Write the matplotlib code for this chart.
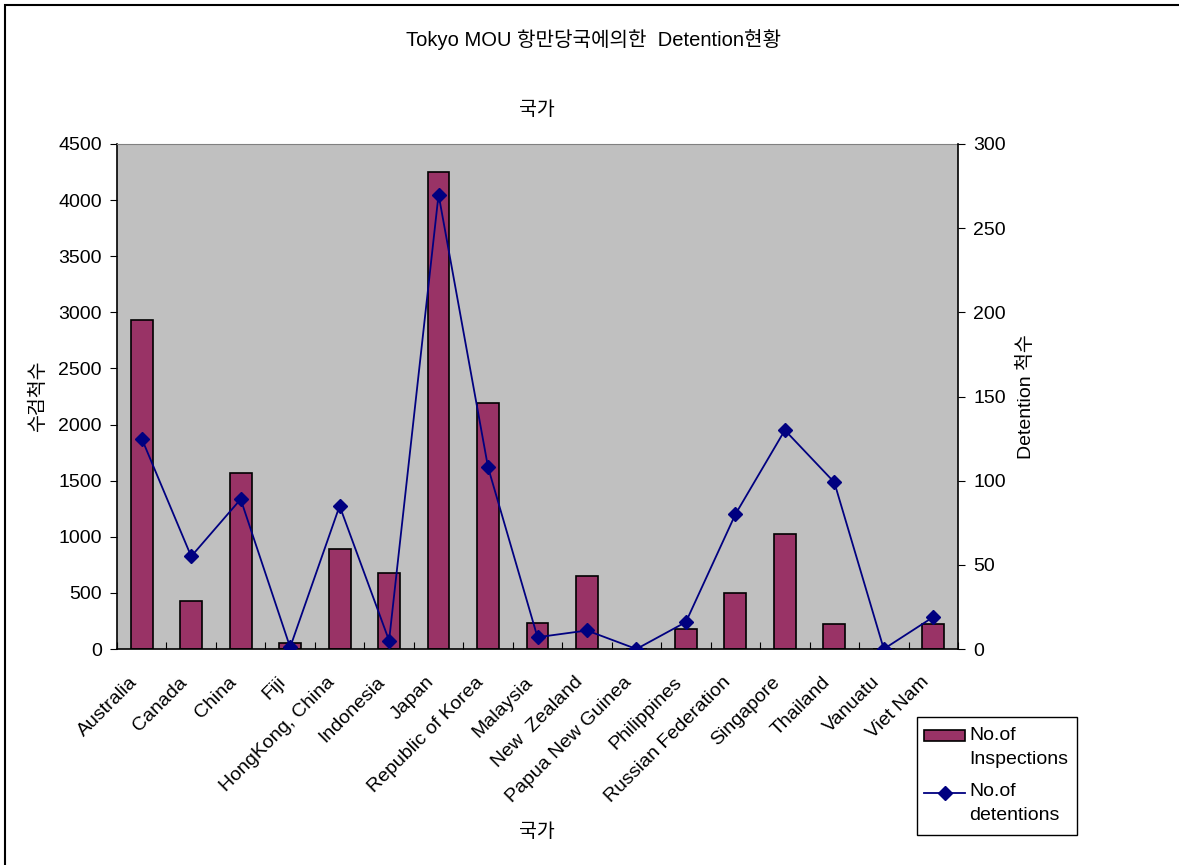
import matplotlib
matplotlib.use("Agg")
import matplotlib.pyplot as plt
import matplotlib.transforms as mtransforms
from matplotlib.patches import Rectangle
from matplotlib.lines import Line2D
import numpy as np

plt.rcParams['font.family'] = ['Liberation Sans', 'Noto Sans CJK KR', 'DejaVu Sans']

countries = ["Australia", "Canada", "China", "Fiji", "HongKong, China", "Indonesia",
             "Japan", "Republic of Korea", "Malaysia", "New  Zealand", "Papua New Guinea",
             "Philippines", "Russian Federation", "Singapore", "Thailand", "Vanuatu", "Viet Nam"]
inspections = [2930, 430, 1570, 52, 889, 681, 4252, 2192, 233, 650, 0,
               178, 500, 1027, 221, 0, 221]
detentions = [125, 55, 89, 1, 85, 5, 270, 108, 7, 11, 0,
              16, 80, 130, 99, 0, 19]

bar_color = "#993366"
line_color = "#000080"
FS = 14

W, H = 1179, 865
fig = plt.figure(figsize=(W / 100, H / 100), dpi=100)


def fx(px):
    return px / W


def fy(py):
    return 1 - py / H


# outer chart frame
fig.patches.append(Rectangle((fx(5), -0.1), 1.2, fy(5) + 0.1, transform=fig.transFigure,
                             fill=False, edgecolor="black", linewidth=1.5))

ax = fig.add_axes([fx(117), fy(649), fx(958 - 117), (649 - 144) / H])
ax.set_facecolor("#c0c0c0")
x = np.arange(len(countries))
ax.bar(x, inspections, width=0.44, color=bar_color, edgecolor="black", linewidth=1.2, zorder=2)
ax.set_xlim(-0.5, len(countries) - 0.5)
ax.set_ylim(0, 4500)
ax.set_yticks(np.arange(0, 4501, 500))
ax.tick_params(axis='y', direction='out', length=5, labelsize=FS, pad=6)

# category boundary ticks, labels centred under each bar
ax.set_xticks(np.arange(-0.5, len(countries), 1.0))
ax.set_xticklabels([])
ax.tick_params(axis='x', which='major', direction='in', length=5)
ax.set_xticks(x, minor=True)
ax.set_xticklabels(countries, minor=True, rotation=45, ha='right', va='top',
                   rotation_mode='anchor', fontsize=FS)
ax.tick_params(axis='x', which='minor', length=0, pad=17)
shift = mtransforms.ScaledTranslation(-13 / 100, -1 / 100, fig.dpi_scale_trans)
for lab in ax.get_xticklabels(minor=True):
    lab.set_transform(lab.get_transform() + shift)

for s in ['left', 'bottom']:
    ax.spines[s].set_color('black')
    ax.spines[s].set_linewidth(1.2)
ax.spines['top'].set_color('#808080')
ax.spines['right'].set_visible(False)

ax2 = ax.twinx()
ax2.plot(x, detentions, color=line_color, marker='D', markersize=7, linewidth=1.3, zorder=3)
ax2.set_ylim(0, 300)
ax2.set_yticks(np.arange(0, 301, 50))
ax2.tick_params(axis='y', direction='out', length=5, labelsize=FS, pad=6)
ax2.spines['right'].set_color('black')
ax2.spines['right'].set_linewidth(1.2)
for s in ['left', 'top', 'bottom']:
    ax2.spines[s].set_visible(False)

ax.set_ylabel("수검척수", fontsize=FS, labelpad=8)
ax2.set_ylabel("Detention 척수", fontsize=FS, labelpad=8)

fig.text(fx(594), fy(40), "Tokyo MOU 항만당국에의한  Detention현황",
         ha='center', va='center', fontsize=14.5)
fig.text(fx(537), fy(110), "국가", ha='center', va='center', fontsize=FS)
fig.text(fx(537), fy(832), "국가", ha='center', va='center', fontsize=FS)

# legend box
fig.patches.append(Rectangle((fx(917), fy(835)), fx(1077 - 917), (835 - 717) / H,
                             transform=fig.transFigure, facecolor='white',
                             edgecolor='black', linewidth=1.0))
fig.patches.append(Rectangle((fx(924), fy(741)), fx(965 - 924), 11 / H,
                             transform=fig.transFigure, facecolor=bar_color,
                             edgecolor='black', linewidth=1.2))
fig.lines.append(Line2D([fx(924), fx(965)], [fy(793), fy(793)], transform=fig.transFigure,
                        color=line_color, linewidth=1.3))
fig.lines.append(Line2D([fx(944.5)], [fy(793)], transform=fig.transFigure,
                        color=line_color, marker='D', markersize=7, linestyle='none'))
for ty, txt in [(735, "No.of"), (759, "Inspections"), (792, "No.of"), (816, "detentions")]:
    fig.text(fx(969), fy(ty), txt, ha='left', va='center', fontsize=FS)

fig.savefig("out.png", dpi=100)
